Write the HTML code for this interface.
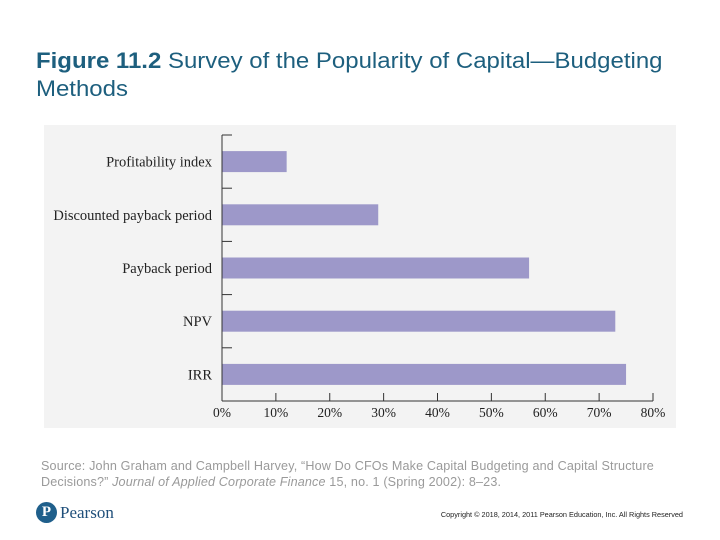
<!DOCTYPE html>
<html><head><meta charset="utf-8"><style>
body{margin:0;width:720px;height:540px;background:#fff;position:relative;overflow:hidden;font-family:"Liberation Sans",sans-serif}
.t{position:absolute;left:36px;top:47px;font-size:22px;line-height:28px;color:#1d5f7e;transform:scaleX(1.09);transform-origin:left top;white-space:nowrap}
.src{position:absolute;left:41px;top:458px;font-size:12.6px;line-height:16px;color:#9a9a9a;letter-spacing:0.15px;white-space:nowrap}
.copy{position:absolute;right:37px;top:510px;font-size:7.3px;color:#222}
.logo{position:absolute;left:36px;top:502px;width:21px;height:21px;border-radius:50%;background:#1f5f8b;color:#fff;font:bold 15px "Liberation Serif",serif;text-align:center;line-height:21px}
.pear{position:absolute;left:60px;top:503px;font:17px "Liberation Serif",serif;color:#1f4f7a}
</style></head><body>
<div class="t"><b>Figure 11.2</b> Survey of the Popularity of Capital—Budgeting<br>Methods</div>
<svg id="c" width="720" height="540" style="position:absolute;left:0;top:0"></svg>
<div class="src">Source: John Graham and Campbell Harvey, “How Do CFOs Make Capital Budgeting and Capital Structure<br>Decisions?” <i>Journal of Applied Corporate Finance</i> 15, no. 1 (Spring 2002): 8–23.</div>
<div class="logo">P</div>
<div class="pear">Pearson</div>
<div class="copy">Copyright © 2018, 2014, 2011 Pearson Education, Inc. All Rights Reserved</div>
<script>
const categories=["Profitability index","Discounted payback period","Payback period","NPV","IRR"];
const values=[12,29,57,73,75];
const ticks=[0,10,20,30,40,50,60,70,80];
const tickLabels=["0%","10%","20%","30%","40%","50%","60%","70%","80%"];
const svg=document.getElementById('c');const NS='http://www.w3.org/2000/svg';
function mk(t,a){const e=document.createElementNS(NS,t);for(const k in a)e.setAttribute(k,a[k]);svg.appendChild(e);return e;}
const x0=222,x1=653,yTop=135,yBot=401;
const xs=v=>x0+(v-ticks[0])/(ticks[ticks.length-1]-ticks[0])*(x1-x0);
const band=(yBot-yTop)/categories.length;
const yc=i=>yTop+band*(i+0.5);
const bg=mk('rect',{x:44,y:125,width:632,height:303,fill:'#f3f3f3'});


categories.forEach((c,i)=>{
 const r=mk('rect',{x:x0,y:yc(i)-10.5,width:xs(values[i])-x0,height:21,fill:'#9d98c9'});
 
 
 const t=mk('text',{x:212,y:yc(i)+5,'text-anchor':'end','font-family':'Liberation Serif,serif','font-size':14.5,fill:'#222'});
 t.textContent=c;
 
 
});
for(let i=0;i<=categories.length-1;i++){const y=yTop+band*i;mk('line',{x1:x0,x2:x0+10,y1:y,y2:y,stroke:'#333','stroke-width':1});}
mk('line',{x1:x0,x2:x0,y1:yTop,y2:yBot,stroke:'#333','stroke-width':1});
mk('line',{x1:x0,x2:x1,y1:yBot,y2:yBot,stroke:'#333','stroke-width':1});
ticks.forEach((v,i)=>{
 mk('line',{x1:xs(v),x2:xs(v),y1:yBot,y2:yBot-8,stroke:'#333','stroke-width':1});
 const t=mk('text',{x:xs(v),y:417,'text-anchor':'middle','font-family':'Liberation Serif,serif','font-size':13.5,fill:'#222'});
 t.textContent=tickLabels[i];
 
 
});
</script>
</body></html>
